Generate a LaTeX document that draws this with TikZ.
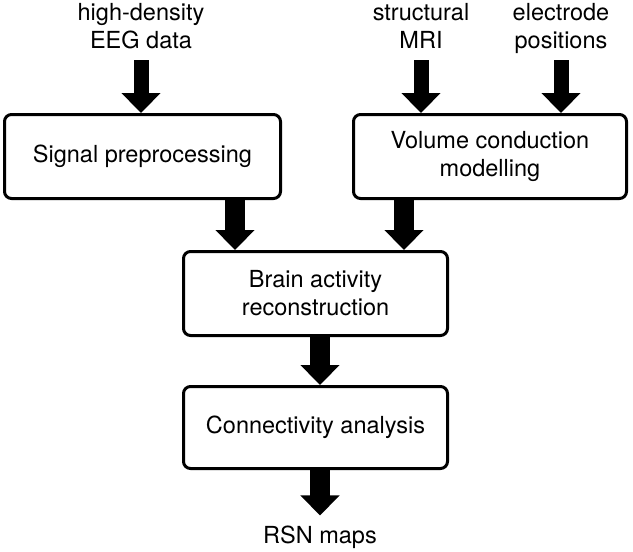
\documentclass[tikz,border=0pt]{standalone}
\usepackage{fontspec}
\setmainfont{TeX Gyre Heros}
\usetikzlibrary{arrows.meta}
\begin{document}
\begin{tikzpicture}[x=1pt,y=-1pt,
  every node/.style={font=\fontsize{23.5}{28}\selectfont, inner sep=0pt},
  procbox/.style={draw, line width=3pt, rounded corners=7pt, align=center},
  inlabel/.style={align=center, anchor=north},
  arrthin/.style={line width=15pt, -{Triangle[length=20pt,width=38pt]}},
  arrthick/.style={line width=20pt, -{Triangle[length=20pt,width=38pt]}}]
\useasboundingbox (0,0) rectangle (633,552);
% input labels
\node[inlabel] (eeg) at (141,3) {high-density\\EEG data};
\node[inlabel] (mri) at (421,3) {structural\\MRI};
\node[inlabel] (elec) at (561,3) {electrode\\positions};
% boxes
\node[procbox, minimum width=276pt, minimum height=84pt] (sp) at (142.5,156.5) {Signal preprocessing};
\node[procbox, minimum width=273pt, minimum height=84pt] (vc) at (490,156.5) {Volume conduction\\modelling};
\node[procbox, minimum width=264pt, minimum height=84pt] (ba) at (315.5,293.5) {Brain activity\\reconstruction};
\node[procbox, minimum width=264pt, minimum height=82pt] (ca) at (315.5,427.5) {Connectivity analysis};
\node (rsn) at (320,537) {RSN maps};
% connectors
\coordinate (e0) at (141,60);
\coordinate (m0) at (421,60);
\coordinate (p0) at (561,60);
\draw[arrthin] (e0) -- (sp.north -| e0);
\draw[arrthin] (m0) -- (vc.north -| m0);
\draw[arrthin] (p0) -- (vc.north -| p0);
\coordinate (l1) at (235,0);
\coordinate (r1) at (404,0);
\coordinate (c1) at (320,0);
\draw[arrthick] (sp.south -| l1) -- (ba.north -| l1);
\draw[arrthick] (vc.south -| r1) -- (ba.north -| r1);
\draw[arrthick] (ba.south -| c1) -- (ca.north -| c1);
\draw[arrthick] (ca.south -| c1) -- ([yshift=10pt]rsn.north -| c1);
\end{tikzpicture}
\end{document}
